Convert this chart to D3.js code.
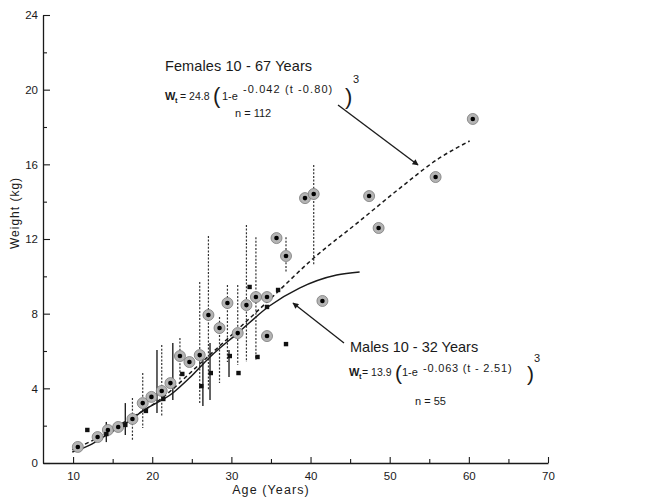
<!DOCTYPE html>
<html><head><meta charset="utf-8">
<script src="https://cdn.jsdelivr.net/npm/d3@7/dist/d3.min.js"></script>
<style>
body{margin:0;background:#fff;}
svg{display:block;font-family:"Liberation Sans",Arial,sans-serif;}
</style></head><body>
<svg id="chart" width="659" height="502"></svg>
<script>
// ---- tick labels ----
const xTicks = [10, 20, 30, 40, 50, 60, 70];
const xMinorTicks = [15, 25, 35, 45, 55, 65];
const yTicks = [0, 4, 8, 12, 16, 20, 24];
const yMinorTicks = [2, 6, 10, 14, 18, 22];

// ---- females (circled points) ----
const femaleAge = [10.6, 13.1, 14.4, 15.7, 17.5, 18.8, 19.9, 21.2, 22.3, 23.5, 24.7, 26.0, 27.1, 28.5, 29.5, 30.8, 31.9, 33.1, 34.5, 34.5, 35.7, 36.9, 39.3, 40.4, 41.5, 47.4, 48.6, 55.8, 60.5];
const femaleWeight = [0.86, 1.39, 1.77, 1.93, 2.36, 3.21, 3.54, 3.86, 4.28, 5.73, 5.41, 5.78, 7.93, 7.23, 8.57, 6.96, 8.46, 8.89, 8.89, 6.80, 12.05, 11.09, 14.19, 14.41, 8.68, 14.30, 12.59, 15.32, 18.43];
// female ranges (dashed)
const femaleRangeAge = [17.5, 18.8, 21.2, 23.5, 26.0, 27.1, 28.5, 29.5, 30.8, 31.9, 33.1, 36.9, 40.4];
const femaleRangeHigh = [3.48, 4.82, 6.32, 6.70, 9.69, 12.16, 7.82, 9.53, 9.53, 12.75, 12.10, 12.10, 15.96];
const femaleRangeLow = [1.23, 1.87, 2.50, 4.45, 3.20, 3.91, 4.28, 5.41, 5.25, 5.41, 5.52, 10.18, 10.60];
// female fitted curve (dashed)
const femaleCurveAge = [9.9, 13.3, 17.1, 20.9, 26.0, 30.7, 34.5, 40.4, 46.2, 51.3, 56.3, 60.1];
const femaleCurveWeight = [0.70, 1.39, 2.36, 3.37, 5.30, 7.12, 8.62, 10.98, 12.96, 14.73, 16.34, 17.25];

// ---- males (squares) ----
const maleAge = [11.8, 14.2, 16.6, 19.2, 21.4, 23.8, 26.2, 27.4, 29.8, 30.9, 32.3, 33.3, 34.5, 35.9, 36.9];
const maleWeight = [1.77, 1.55, 2.04, 2.79, 3.43, 4.77, 4.12, 4.82, 5.73, 4.82, 9.43, 5.68, 8.36, 9.27, 6.37];
// male ranges (solid)
const maleRangeAge = [14.2, 16.6, 20.6, 22.6, 26.4, 27.3, 29.7];
const maleRangeHigh = [2.20, 3.21, 6.05, 6.43, 5.68, 6.43, 6.05];
const maleRangeLow = [1.12, 1.50, 2.68, 3.37, 3.05, 3.37, 4.61];
// male fitted curve (solid)
const maleCurveAge = [9.9, 12.1, 14.2, 16.5, 19.0, 22.6, 24.7, 27.3, 30.8, 34.8, 38.6, 43.3, 46.2];
const maleCurveWeight = [0.59, 0.96, 1.50, 2.09, 2.84, 3.75, 4.55, 5.68, 6.96, 8.41, 9.37, 10.07, 10.23];

const svg = d3.select("#chart");
const x = d3.scaleLinear().domain([6.2, 70]).range([43, 548]);
const y = d3.scaleLinear().domain([0, 24]).range([463, 15]);
const ink = "#1a1a1a";

// markers
const defs = svg.append("defs");
defs.append("marker").attr("id", "arrow").attr("viewBox", "0 0 10 10")
  .attr("refX", 9).attr("refY", 5).attr("markerWidth", 8).attr("markerHeight", 6)
  .attr("markerUnits", "userSpaceOnUse").attr("orient", "auto")
  .append("path").attr("d", "M0,0 L10,5 L0,10 Z").attr("fill", ink);

// axes
const gx = svg.append("g").attr("transform", "translate(0,463)")
  .call(d3.axisBottom(x).tickValues(xTicks).tickSizeInner(-6).tickSizeOuter(0).tickPadding(9).tickFormat(d3.format("d")));
const gxm = svg.append("g").attr("transform", "translate(0,463)")
  .call(d3.axisBottom(x).tickValues(xMinorTicks).tickSizeInner(-4).tickSizeOuter(0).tickFormat(""));
const gy = svg.append("g").attr("transform", "translate(43,0)")
  .call(d3.axisLeft(y).tickValues(yTicks).tickSizeInner(-7).tickSizeOuter(0).tickPadding(5).tickFormat(d3.format("d")));
const gym = svg.append("g").attr("transform", "translate(43,0)")
  .call(d3.axisLeft(y).tickValues(yMinorTicks).tickSizeInner(-4).tickSizeOuter(0).tickFormat(""));
svg.selectAll(".domain").attr("stroke", ink).attr("stroke-width", 1.3);
svg.selectAll(".tick line").attr("stroke", ink).attr("stroke-width", 1.1);
svg.selectAll(".tick text").attr("font-size", 11.5).attr("fill", ink)
  .attr("font-family", '"Liberation Sans",Arial,sans-serif');
gxm.select(".domain").remove(); gym.select(".domain").remove();

// axis titles
svg.append("text").attr("x", 271).attr("y", 494).attr("text-anchor", "middle")
  .attr("font-size", 12.5).attr("letter-spacing", 1.1).attr("fill", ink).text("Age (Years)");
svg.append("text").attr("transform", "translate(19,213) rotate(-90)").attr("text-anchor", "middle")
  .attr("font-size", 12).attr("letter-spacing", 1).attr("fill", ink).text("Weight (kg)");

// range bars
svg.append("g").selectAll("line").data(femaleRangeAge).join("line")
  .attr("x1", d => x(d)).attr("x2", d => x(d))
  .attr("y1", (d, i) => y(femaleRangeHigh[i])).attr("y2", (d, i) => y(femaleRangeLow[i]))
  .attr("stroke", "#333").attr("stroke-width", 1.2).attr("stroke-dasharray", "2,1.6");
svg.append("g").selectAll("line").data(maleRangeAge).join("line")
  .attr("x1", d => x(d)).attr("x2", d => x(d))
  .attr("y1", (d, i) => y(maleRangeHigh[i])).attr("y2", (d, i) => y(maleRangeLow[i]))
  .attr("stroke", "#222").attr("stroke-width", 1.4);

// curves
const line = d3.line().x(d => x(d[0])).y(d => y(d[1])).curve(d3.curveMonotoneX);
svg.append("path").attr("d", line(femaleCurveAge.map((a, i) => [a, femaleCurveWeight[i]])))
  .attr("fill", "none").attr("stroke", ink).attr("stroke-width", 1.5).attr("stroke-dasharray", "4,3");
svg.append("path").attr("d", line(maleCurveAge.map((a, i) => [a, maleCurveWeight[i]])))
  .attr("fill", "none").attr("stroke", ink).attr("stroke-width", 1.5);

// female points
const fg = svg.append("g").selectAll("g").data(femaleAge).join("g")
  .attr("transform", (d, i) => `translate(${x(d)},${y(femaleWeight[i])})`);
fg.append("circle").attr("r", 5.5).attr("fill", "#b4b4b4").attr("stroke", "#7a7a7a").attr("stroke-width", 0.8);
fg.append("circle").attr("r", 2.3).attr("fill", "#000");

// male points
svg.append("g").selectAll("rect").data(maleAge).join("rect")
  .attr("x", d => x(d) - 2.2).attr("y", (d, i) => y(maleWeight[i]) - 2.2)
  .attr("width", 4.4).attr("height", 4.4).attr("fill", "#111");

// annotations - females
const t = svg.append("g").attr("fill", ink);
t.append("text").attr("x", 165).attr("y", 71).attr("font-size", 14.5).attr("letter-spacing", 0.1).text("Females 10 - 67 Years");
t.append("text").attr("x", 165).attr("y", 100).attr("font-size", 11).attr("font-weight", "bold").text("W");
t.append("text").attr("x", 175).attr("y", 102.5).attr("font-size", 7.5).attr("font-weight", "bold").text("t");
t.append("text").attr("x", 180).attr("y", 100).attr("font-size", 10.5).text("= 24.8");
t.append("text").attr("x", 213).attr("y", 103).attr("font-size", 22).text("(");
t.append("text").attr("x", 222).attr("y", 100).attr("font-size", 11).text("1-e");
t.append("text").attr("x", 243).attr("y", 93).attr("font-size", 11).attr("letter-spacing", 1.1).text("-0.042  (t -0.80)");
t.append("text").attr("x", 345).attr("y", 104).attr("font-size", 22).text(")");
t.append("text").attr("x", 353).attr("y", 83).attr("font-size", 11).text("3");
t.append("text").attr("x", 235).attr("y", 117).attr("font-size", 11).text("n = 112");

// annotations - males
t.append("text").attr("x", 350).attr("y", 352).attr("font-size", 14.5).attr("letter-spacing", 0).text("Males 10 - 32 Years");
t.append("text").attr("x", 349).attr("y", 376).attr("font-size", 11).attr("font-weight", "bold").text("W");
t.append("text").attr("x", 359).attr("y", 378.5).attr("font-size", 7.5).attr("font-weight", "bold").text("t");
t.append("text").attr("x", 362).attr("y", 376).attr("font-size", 10.5).text("= 13.9");
t.append("text").attr("x", 395).attr("y", 380).attr("font-size", 21).text("(");
t.append("text").attr("x", 402).attr("y", 376).attr("font-size", 11).text("1-e");
t.append("text").attr("x", 423).attr("y", 372).attr("font-size", 11).attr("letter-spacing", 0.8).text("-0.063  (t - 2.51)");
t.append("text").attr("x", 527).attr("y", 381).attr("font-size", 21).text(")");
t.append("text").attr("x", 534).attr("y", 362).attr("font-size", 11).text("3");
t.append("text").attr("x", 415).attr("y", 405).attr("font-size", 11).text("n = 55");

// arrows
svg.append("line").attr("x1", 338).attr("y1", 105).attr("x2", 418).attr("y2", 165)
  .attr("stroke", ink).attr("stroke-width", 1.3).attr("marker-end", "url(#arrow)");
svg.append("line").attr("x1", 344).attr("y1", 343).attr("x2", 293).attr("y2", 303)
  .attr("stroke", ink).attr("stroke-width", 1.3).attr("marker-end", "url(#arrow)");
</script>
</body></html>
